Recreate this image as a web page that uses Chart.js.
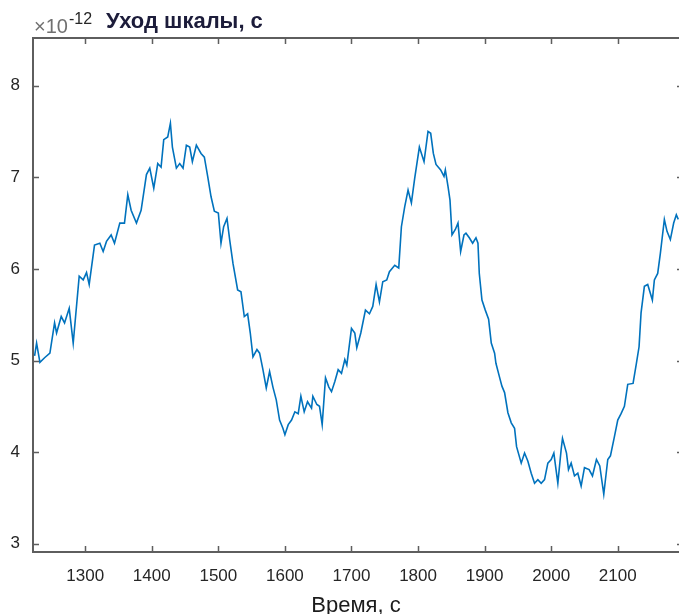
<!DOCTYPE html>
<html>
<head>
<meta charset="utf-8">
<script src="https://cdn.jsdelivr.net/npm/chart.js@4.4.1/dist/chart.umd.min.js"></script>
<style>
  html, body { margin: 0; padding: 0; background: #fff; }
  #wrap { width: 679px; height: 614px; }
</style>
</head>
<body>
<div id="wrap"><canvas id="drift"></canvas></div>
<script>
// data (time in s, drift in units of 1e-12 s)

const times = [
  1224, 1227, 1232, 1239, 1247, 1254, 1257, 1264, 1269, 1276,
  1282, 1291, 1297, 1302, 1306, 1314, 1322, 1327, 1332, 1339,
  1344, 1352, 1359, 1364, 1369, 1377, 1384, 1392, 1397, 1403,
  1409, 1414, 1418, 1424, 1428, 1431, 1437, 1442, 1447, 1452,
  1457, 1461, 1467, 1474, 1479, 1484, 1489, 1494, 1500, 1504,
  1508, 1513, 1517, 1522, 1529, 1534, 1539, 1544, 1548, 1552,
  1558, 1562, 1567, 1572, 1577, 1582, 1587, 1592, 1597, 1600,
  1605, 1610, 1615, 1620, 1624, 1629, 1634, 1640, 1642, 1648,
  1652, 1656, 1661, 1666, 1670, 1675, 1680, 1685, 1690, 1693,
  1700, 1705, 1708, 1714, 1721, 1727, 1732, 1737, 1742, 1747,
  1753, 1757, 1765, 1771, 1775, 1780, 1785, 1790, 1795, 1802,
  1809, 1815, 1819, 1823, 1827, 1834, 1839, 1841, 1845, 1848,
  1851, 1856, 1860, 1864, 1869, 1872, 1877, 1882, 1887, 1890,
  1892, 1896, 1901, 1906, 1910, 1915, 1917, 1922, 1926, 1930,
  1935, 1940, 1945, 1948, 1955, 1960, 1965, 1970, 1975, 1980,
  1985, 1990, 1995, 2000, 2004, 2010, 2015, 2017, 2023, 2026,
  2030, 2035, 2040, 2045, 2050, 2057, 2062, 2068, 2073, 2079,
  2085, 2089, 2095, 2100, 2105, 2110, 2115, 2123, 2128, 2132,
  2135, 2140, 2145, 2152, 2155, 2160, 2164, 2170, 2174, 2179,
  2184, 2188, 2191
];

const drift = [
  5.05, 5.19, 4.98, 5.03, 5.08, 5.41, 5.30, 5.48, 5.41, 5.57,
  5.19, 5.92, 5.88, 5.96, 5.83, 6.26, 6.28, 6.19, 6.30, 6.37,
  6.28, 6.50, 6.50, 6.81, 6.64, 6.50, 6.64, 7.03, 7.10, 6.88,
  7.15, 7.11, 7.41, 7.44, 7.59, 7.33, 7.10, 7.15, 7.10, 7.35,
  7.33, 7.17, 7.35, 7.26, 7.22, 7.01, 6.79, 6.63, 6.61, 6.28,
  6.46, 6.55, 6.32, 6.06, 5.77, 5.75, 5.48, 5.51, 5.30, 5.04,
  5.12, 5.08, 4.90, 4.70, 4.88, 4.71, 4.57, 4.35, 4.26, 4.19,
  4.30, 4.35, 4.44, 4.42, 4.61, 4.44, 4.55, 4.48, 4.61, 4.52,
  4.50, 4.30, 4.81, 4.71, 4.66, 4.77, 4.90, 4.86, 5.01, 4.95,
  5.35, 5.30, 5.14, 5.30, 5.55, 5.51, 5.59, 5.83, 5.64, 5.86,
  5.88, 5.97, 6.04, 6.01, 6.46, 6.68, 6.86, 6.72, 6.99, 7.33,
  7.17, 7.50, 7.48, 7.26, 7.14, 7.08, 7.01, 7.08, 6.90, 6.75,
  6.37, 6.43, 6.50, 6.19, 6.37, 6.39, 6.34, 6.28, 6.34, 6.28,
  5.95, 5.66, 5.55, 5.45, 5.19, 5.08, 4.97, 4.83, 4.72, 4.65,
  4.43, 4.32, 4.26, 4.06, 3.88, 3.99, 3.90, 3.77, 3.66, 3.70,
  3.66, 3.70, 3.88, 3.92, 3.99, 3.66, 4.03, 4.15, 3.99, 3.81,
  3.88, 3.74, 3.77, 3.63, 3.83, 3.81, 3.74, 3.92, 3.85, 3.54,
  3.92, 3.96, 4.17, 4.35, 4.42, 4.50, 4.74, 4.75, 4.97, 5.15,
  5.52, 5.81, 5.83, 5.66, 5.88, 5.95, 6.17, 6.54, 6.41, 6.32,
  6.50, 6.59, 6.54
];

const xTicks = [1300, 1400, 1500, 1600, 1700, 1800, 1900, 2000, 2100];
const yTicks = [3, 4, 5, 6, 7, 8];
const xRange = [1221.6, 2192];
const yRange = [2.91, 8.52];

const titleText = 'Уход шкалы, с';
const xLabelText = 'Время, с';
const exponentBase = '×10';
const exponentPower = '-12';

const FONT = "'Liberation Sans', Arial, sans-serif";
const TEXT_COLOR = '#262626';
const AXIS_COLOR = '#5e5e5e';
const LINE_COLOR = '#0072BD';

// MATLAB style box with inward ticks on all sides
const boxPlugin = {
  id: 'box',
  afterDatasetsDraw(chart) {
    const { ctx, chartArea: a, scales } = chart;
    const len = 6;
    ctx.save();
    ctx.strokeStyle = AXIS_COLOR;
    ctx.lineWidth = 2;
    ctx.beginPath();
    ctx.moveTo(a.right, a.top);
    ctx.lineTo(a.left, a.top);
    ctx.lineTo(a.left, a.bottom);
    ctx.lineTo(a.right, a.bottom);
    ctx.stroke();

    ctx.lineWidth = 1.5;
    ctx.beginPath();
    scales.x.ticks.forEach((t, i) => {
      const x = Math.round(scales.x.getPixelForTick(i)) + 0.5;
      ctx.moveTo(x, a.bottom);
      ctx.lineTo(x, a.bottom - len);
      ctx.moveTo(x, a.top);
      ctx.lineTo(x, a.top + len);
    });
    scales.y.ticks.forEach((t, i) => {
      const y = Math.round(scales.y.getPixelForTick(i)) + 0.5;
      ctx.moveTo(a.left, y);
      ctx.lineTo(a.left + len, y);
      ctx.moveTo(a.right, y);
      ctx.lineTo(a.right - 2, y);
    });
    ctx.stroke();
    ctx.restore();
  }
};

// exponent marker and title above the axes
const headerPlugin = {
  id: 'header',
  afterDraw(chart) {
    const { ctx } = chart;
    ctx.save();
    ctx.textBaseline = 'alphabetic';
    ctx.textAlign = 'left';
    ctx.fillStyle = '#707070';
    ctx.font = `20px ${FONT}`;
    ctx.fillText(exponentBase, 34, 33);
    const w = ctx.measureText(exponentBase).width;
    ctx.fillStyle = TEXT_COLOR;
    ctx.font = `16px ${FONT}`;
    ctx.fillText(exponentPower, 34 + w + 1, 24);
    ctx.font = `bold 22px ${FONT}`;
    ctx.fillStyle = '#1c1c3a';
    ctx.fillText(titleText, 106, 28);
    ctx.restore();
  }
};

const points = times.map((t, i) => ({ x: t, y: drift[i] }));

const config = {
  type: 'line',
  data: {
    datasets: [{
      data: points,
      borderColor: LINE_COLOR,
      borderWidth: 1.6,
      pointRadius: 0,
      tension: 0,
      fill: false
    }]
  },
  options: {
    responsive: true,
    maintainAspectRatio: false,
    animation: false,
    layout: { padding: { top: 38, left: 0, right: 0, bottom: 0 } },
    plugins: {
      legend: { display: false },
      tooltip: { enabled: false }
    },
    scales: {
      x: {
        type: 'linear',
        min: xRange[0],
        max: xRange[1],
        afterBuildTicks: s => { s.ticks = xTicks.map(v => ({ value: v })); },
        afterFit: s => { s.height = 62; },
        grid: { display: false, drawTicks: false },
        border: { display: false },
        ticks: {
          autoSkip: false,
          maxRotation: 0,
          padding: 14,
          color: TEXT_COLOR,
          font: { family: FONT, size: 17 },
          callback: v => String(v)
        },
        title: {
          display: true,
          text: xLabelText,
          color: '#1c1c1c',
          font: { family: FONT, size: 22 },
          padding: { top: 0, bottom: -5 }
        }
      },
      y: {
        type: 'linear',
        min: yRange[0],
        max: yRange[1],
        afterBuildTicks: s => { s.ticks = yTicks.map(v => ({ value: v })); },
        afterFit: s => { s.width = 33; },
        grid: { display: false, drawTicks: false },
        border: { display: false },
        ticks: {
          padding: 13,
          color: TEXT_COLOR,
          font: { family: FONT, size: 17 },
          callback: v => String(v)
        }
      }
    }
  },
  plugins: [boxPlugin, headerPlugin]
};

const driftChart = new Chart(document.getElementById('drift'), config);
</script>
</body>
</html>
